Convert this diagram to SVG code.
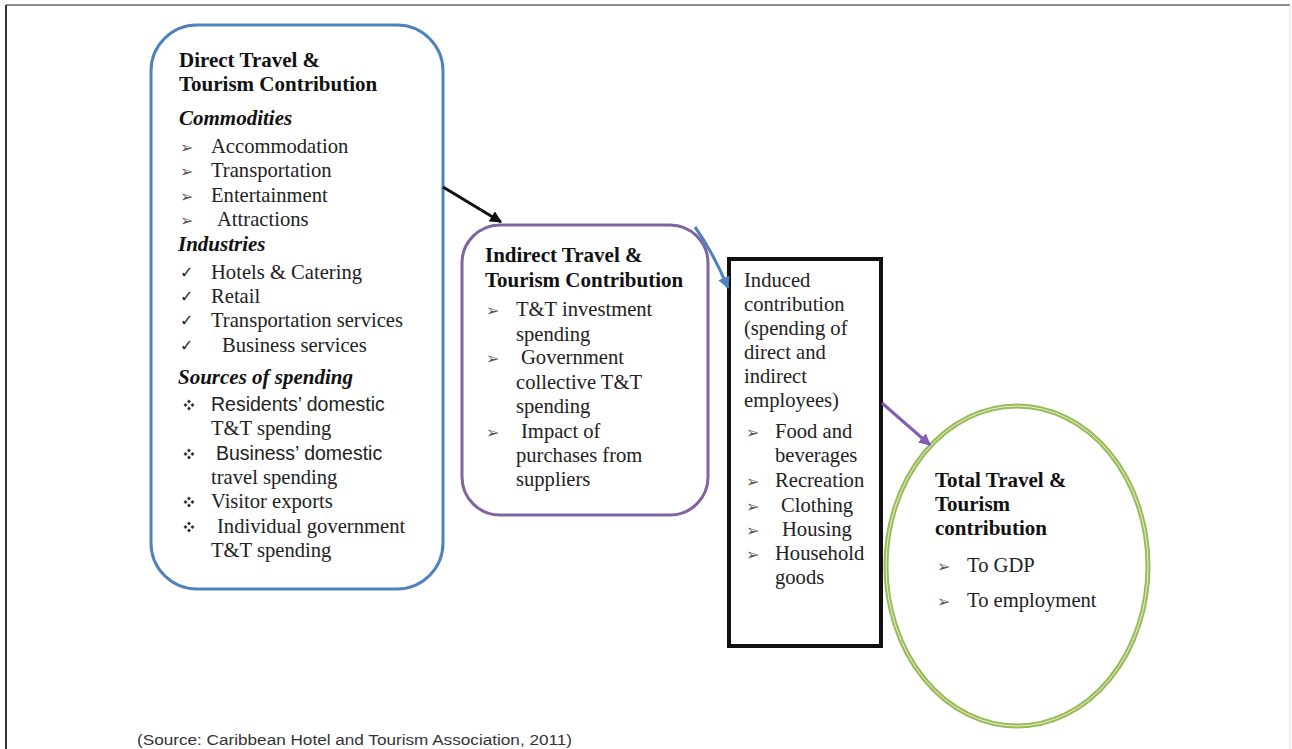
<svg xmlns="http://www.w3.org/2000/svg" width="1292" height="749" viewBox="0 0 1292 749">
<style>
.t{font-family:"Liberation Serif","Times New Roman",serif;font-size:20.6px;fill:#222}
.b{font-weight:bold;fill:#111;font-size:21px}
.bi{font-weight:bold;font-style:italic;fill:#111;font-size:21px}
.s{font-family:"Liberation Sans",Arial,sans-serif;font-size:19.5px;fill:#222}
.bul{font-family:"DejaVu Sans",sans-serif;font-size:16px;fill:#555}
.chk{font-family:"DejaVu Sans",sans-serif;font-size:16px;fill:#222}
.src{font-family:"Liberation Sans",Arial,sans-serif;font-size:14px;fill:#333}
</style>
<defs>
<marker id="ahK" viewBox="0 0 10 10" refX="9" refY="5" markerWidth="4" markerHeight="4" orient="auto" markerUnits="strokeWidth"><path d="M0,0 L10,5 L0,10 z" fill="#111"/></marker>
<marker id="ahB" viewBox="0 0 10 10" refX="9" refY="5" markerWidth="4" markerHeight="4" orient="auto" markerUnits="strokeWidth"><path d="M0,0 L10,5 L0,10 z" fill="#4f81bd"/></marker>
<marker id="ahP" viewBox="0 0 10 10" refX="9" refY="5" markerWidth="4" markerHeight="4" orient="auto" markerUnits="strokeWidth"><path d="M0,0 L10,5 L0,10 z" fill="#7f5fb0"/></marker>
<g id="dia" fill="#333">
<path d="M0,-5.5 L2,-3.5 L0,-1.5 L-2,-3.5 z"/>
<path d="M0,5.5 L2,3.5 L0,1.5 L-2,3.5 z"/>
<path d="M-5.5,0 L-3.5,2 L-1.5,0 L-3.5,-2 z"/>
<path d="M5.5,0 L3.5,2 L1.5,0 L3.5,-2 z"/>
</g>
</defs>
<rect width="1292" height="749" fill="#fff"/>
<g id="frame">
<line x1="6" y1="5" x2="1290" y2="5" stroke="#666" stroke-width="1.5"/>
<line x1="6" y1="5" x2="6" y2="749" stroke="#333" stroke-width="2"/>
<line x1="1290" y1="5" x2="1290" y2="749" stroke="#ddd" stroke-width="1"/>
</g>
<g id="direct">
<rect x="151" y="25" width="292" height="564" rx="46" ry="46" fill="#fff" stroke="#4f81bd" stroke-width="3"/>
<text class="t b" x="179" y="67">Direct Travel &amp;</text>
<text class="t b" x="179" y="91">Tourism Contribution</text>
<text class="t bi" x="179" y="125">Commodities</text>
<text class="bul" x="180" y="153">➢</text><text class="t" x="211" y="153">Accommodation</text>
<text class="bul" x="180" y="177">➢</text><text class="t" x="211" y="177">Transportation</text>
<text class="bul" x="180" y="202">➢</text><text class="t" x="211" y="202">Entertainment</text>
<text class="bul" x="180" y="226">➢</text><text class="t" x="217" y="226">Attractions</text>
<text class="t bi" x="178" y="251">Industries</text>
<text class="chk" x="180" y="278">✓</text><text class="t" x="211" y="279">Hotels &amp; Catering</text>
<text class="chk" x="180" y="302">✓</text><text class="t" x="211" y="303">Retail</text>
<text class="chk" x="180" y="326">✓</text><text class="t" x="211" y="327">Transportation services</text>
<text class="chk" x="180" y="351">✓</text><text class="t" x="222" y="352">Business services</text>
<text class="t bi" x="178" y="384">Sources of spending</text>
<use href="#dia" x="189" y="405"/><text class="s" x="211" y="411">Residents’ domestic</text>
<text class="t" x="211" y="435">T&amp;T spending</text>
<use href="#dia" x="189" y="454"/><text class="s" x="216" y="460">Business’ domestic</text>
<text class="t" x="211" y="484">travel spending</text>
<use href="#dia" x="189" y="502"/><text class="t" x="211" y="508">Visitor exports</text>
<use href="#dia" x="189" y="527"/><text class="t" x="217" y="533">Individual government</text>
<text class="t" x="211" y="557">T&amp;T spending</text>
</g>
<g id="indirect">
<rect x="462" y="225" width="246" height="290" rx="38" ry="38" fill="#fff" stroke="#8064a2" stroke-width="3"/>
<text class="t b" x="485" y="262">Indirect Travel &amp;</text>
<text class="t b" x="485" y="287">Tourism Contribution</text>
<text class="bul" x="486" y="316">➢</text><text class="t" x="516" y="316">T&amp;T investment</text>
<text class="t" x="516" y="341">spending</text>
<text class="bul" x="486" y="364">➢</text><text class="t" x="521" y="364">Government</text>
<text class="t" x="516" y="389">collective T&amp;T</text>
<text class="t" x="516" y="413">spending</text>
<text class="bul" x="486" y="438">➢</text><text class="t" x="521" y="438">Impact of</text>
<text class="t" x="516" y="462">purchases from</text>
<text class="t" x="516" y="486">suppliers</text>
</g>
<g id="induced">
<rect x="729" y="259" width="152" height="387" fill="#fff" stroke="#111" stroke-width="4"/>
<text class="t" x="744" y="287">Induced</text>
<text class="t" x="744" y="311">contribution</text>
<text class="t" x="744" y="335">(spending of</text>
<text class="t" x="744" y="359">direct and</text>
<text class="t" x="744" y="383">indirect</text>
<text class="t" x="744" y="407">employees)</text>
<text class="bul" x="746" y="438">➢</text><text class="t" x="775" y="438">Food and</text>
<text class="t" x="775" y="462">beverages</text>
<text class="bul" x="746" y="487">➢</text><text class="t" x="775" y="487">Recreation</text>
<text class="bul" x="746" y="512">➢</text><text class="t" x="781" y="512">Clothing</text>
<text class="bul" x="746" y="536">➢</text><text class="t" x="782" y="536">Housing</text>
<text class="bul" x="746" y="560">➢</text><text class="t" x="775" y="560">Household</text>
<text class="t" x="775" y="584">goods</text>
</g>
<g id="total">
<ellipse cx="1017" cy="566" rx="131" ry="160" fill="#fff" stroke="#9bbb59" stroke-width="5"/>
<ellipse cx="1017" cy="566" rx="131" ry="160" fill="none" stroke="#e6f0d4" stroke-width="1"/>
<text class="t b" x="935" y="487">Total Travel &amp;</text>
<text class="t b" x="935" y="511">Tourism</text>
<text class="t b" x="935" y="535">contribution</text>
<text class="bul" x="937" y="572">➢</text><text class="t" x="967" y="572">To GDP</text>
<text class="bul" x="937" y="607">➢</text><text class="t" x="967" y="607">To employment</text>
</g>
<g id="connectors" fill="none">
<line x1="443" y1="187" x2="501" y2="222" stroke="#111" stroke-width="3" marker-end="url(#ahK)"/>
<path d="M695,227 Q713,252 728,288" stroke="#4f81bd" stroke-width="3" marker-end="url(#ahB)"/>
<line x1="882" y1="403" x2="930" y2="445" stroke="#7f5fb0" stroke-width="3" marker-end="url(#ahP)"/>
</g>
<text class="src" x="137" y="745" textLength="435" lengthAdjust="spacingAndGlyphs">(Source: Caribbean Hotel and Tourism Association, 2011)</text>
</svg>
